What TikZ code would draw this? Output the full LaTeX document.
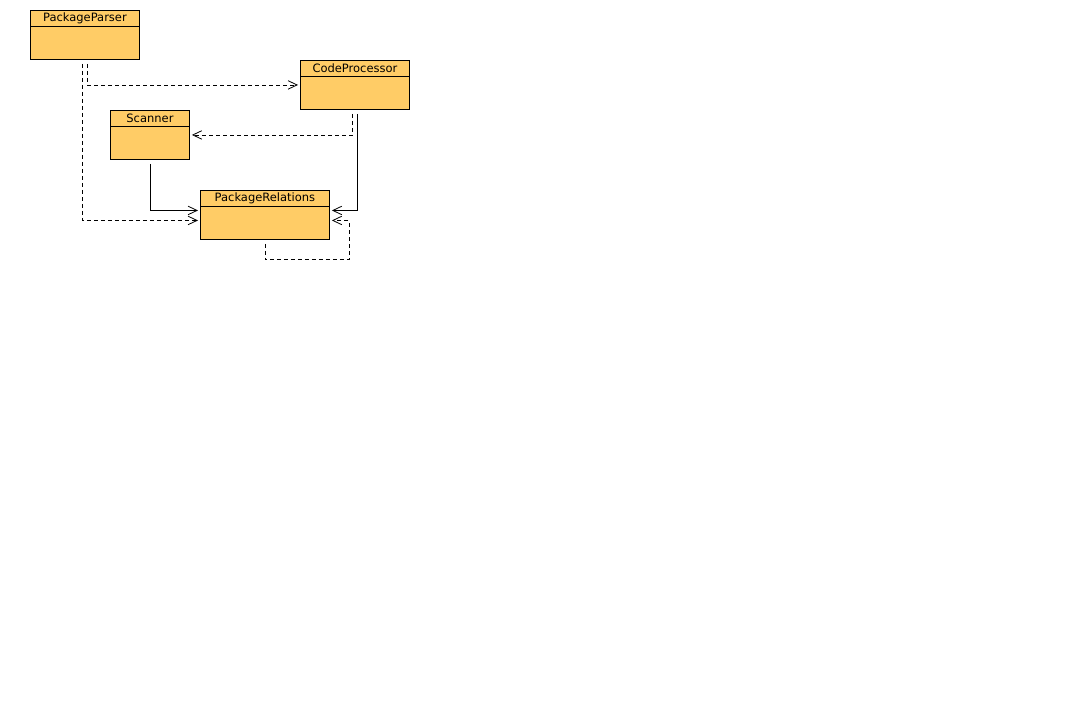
\documentclass[tikz,border=0pt]{standalone}
\usepackage{fontspec}
\setsansfont{DejaVu Sans}
\usetikzlibrary{
  arrows.meta,
  positioning
}
\definecolor{umlFill}{HTML}{FFCC66}
\definecolor{umlInk}{HTML}{000000}
\tikzset{
  every node/.style={font=\sffamily\fontsize{11.5}{13}\selectfont, text=umlInk},
  classbox/.style={
    draw=umlInk,
    fill=umlFill,
    line width=0.9pt,
    anchor=north west,
    inner sep=0pt
  },
  classhead/.style={
    classbox,
    minimum height=16pt
  },
  uses/.style={
    -{Straight Barb[length=9pt,width=8.5pt]},
    line width=0.8pt,
    draw=umlInk,
    shorten <=4pt,
    shorten >=2pt
  },
  depends/.style={
    uses,
    dash pattern=on 4pt off 3pt
  }
}

\begin{document}
\begin{tikzpicture}[x=1pt, y=-1pt]
  \useasboundingbox (0,0) rectangle (1068,703);

  \node[classbox, minimum width=109pt, minimum height=49pt] (parser) at (30,10) {};
  \node[classhead, minimum width=109pt] (parserHead) at (parser.north west) {PackageParser};

  \node[classbox, minimum width=109pt, minimum height=49pt] (coder) at (300,60) {};
  \node[classhead, minimum width=109pt] (coderHead) at (coder.north west) {CodeProcessor};

  \node[classbox, minimum width=79pt, minimum height=49pt] (scanner) at (110,110) {};
  \node[classhead, minimum width=79pt] (scannerHead) at (scanner.north west) {Scanner};

  \node[classbox, minimum width=129pt, minimum height=49pt] (relations) at (200,190) {};
  \node[classhead, minimum width=129pt] (relationsHead) at (relations.north west) {PackageRelations};

  \draw[depends] ([xshift=2.5pt]parser.south) |- (coder.west);
  \draw[depends] ([xshift=-2.5pt]parser.south) |- ([yshift=-5.5pt]relations.west);
  \draw[depends] ([xshift=-2.5pt]coder.south) |- (scanner.east);
  \draw[uses] ([xshift=2.5pt]coder.south) |- ([yshift=4.5pt]relations.east);
  \draw[uses] (scanner.south) |- ([yshift=4.5pt]relations.west);
  \draw[depends] (relations.south) |- ([xshift=19pt,yshift=-20pt]relations.south east)
    |- ([yshift=-5.5pt]relations.east);
\end{tikzpicture}
\end{document}
